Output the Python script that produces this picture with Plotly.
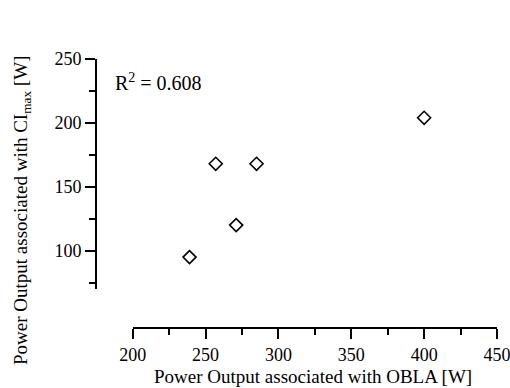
import plotly.graph_objects as go

x_obla = [239, 257, 271, 285, 400]
y_ci = [95, 168, 120, 168, 204]
x_ticks = [200, 250, 300, 350, 400, 450]
y_ticks = [100, 150, 200, 250]

W, H = 510, 388
ML, MR, MT, MB = 96, 13, 59, 60
PW, PH = W - ML - MR, H - MT - MB

def px(x):
    return (x - ML) / PW

def py(y):
    return (H - MB - y) / PH

FONT = "Liberation Serif"

fig = go.Figure()
fig.add_trace(go.Scatter(
    x=x_obla, y=y_ci, mode="markers",
    marker=dict(symbol="diamond-open", size=10, color="black", line=dict(width=1.6, color="black")),
    showlegend=False, cliponaxis=False,
))

axis_common = dict(
    showgrid=False, zeroline=False, showline=True, linecolor="black", linewidth=2,
    ticks="outside", tickcolor="black", tickwidth=2, ticklen=10,
    tickfont=dict(family=FONT, size=18, color="black"),
    minor=dict(ticks="outside", ticklen=6, tickwidth=2, tickcolor="black", dtick=25, showgrid=False),
    automargin=False, ticklabeloverflow="allow",
)

fig.update_layout(
    width=W, height=H,
    margin=dict(l=ML, r=MR, t=MT, b=MB, autoexpand=False),
    paper_bgcolor="white", plot_bgcolor="white",
    xaxis=dict(range=[200, 450], tickvals=x_ticks, domain=[px(132.7), 1.0],
               anchor="free", position=0, **axis_common),
    yaxis=dict(range=[70, 250], tickvals=y_ticks, domain=[py(289), 1.0],
               anchor="free", position=0, **axis_common),
    font=dict(family=FONT, color="black"),
    annotations=[
        dict(text="Power Output associated with OBLA [W]", xref="paper", yref="paper",
             x=px(313), y=py(376), xanchor="center", yanchor="middle", showarrow=False,
             font=dict(family=FONT, size=19, color="black")),
        dict(text="Power Output associated with CI<sub>max</sub> [W]", xref="paper", yref="paper",
             x=px(22), y=py(211), xanchor="center", yanchor="middle", showarrow=False, textangle=-90,
             font=dict(family=FONT, size=19, color="black")),
        dict(text="R<sup>2</sup> = 0.608", xref="paper", yref="paper",
             x=px(113), y=py(82), xanchor="left", yanchor="middle", showarrow=False,
             font=dict(family=FONT, size=20, color="black")),
    ],
)

fig.write_html("out.html", config={"displayModeBar": False},
               post_script="document.body.style.margin='0px';document.body.style.overflow='hidden';")
